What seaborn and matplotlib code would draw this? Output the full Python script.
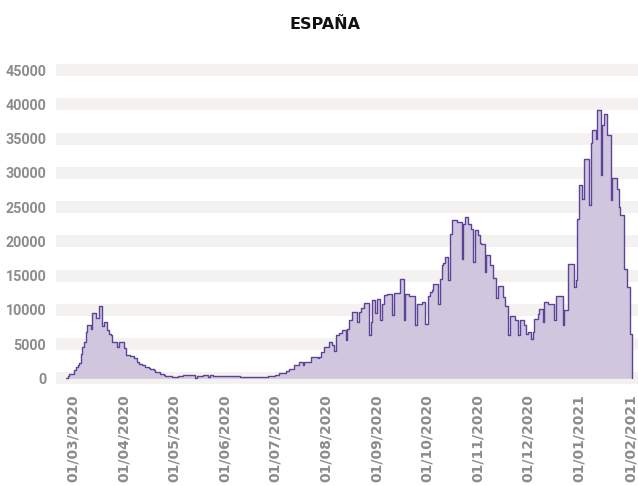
import numpy as np
import pandas as pd
import matplotlib
matplotlib.use("Agg")
import matplotlib.pyplot as plt
import matplotlib.dates as mdates
import seaborn as sns

# ---- data (daily new cases) ----
start_date = "2020-02-27"
feb_2020 = [0, 400, 600, 650]
mar_2020 = [700, 1200, 1700, 2000, 2300, 3600, 4500, 5300, 6800, 7800, 7800, 7200,
            9500, 9500, 8800, 8800, 10500, 10500, 7600, 8200, 8200, 7000, 6400, 6300,
            5300, 5300, 5300, 4500, 5300, 5300, 5300]
apr_2020 = [4400, 3400, 3400, 3350, 3300, 3200, 2900, 2900, 2400, 2100, 2050, 2000,
            2000, 1600, 1600, 1550, 1300, 1300, 1250, 920, 900, 880, 600, 580, 550,
            350, 350, 330, 300, 200]
may_2020 = [200, 220, 250, 340, 340, 340, 480, 480, 470, 480, 470, 480, 480, 100,
            380, 380, 380, 380, 450, 450, 450, 150, 450, 450, 300, 300, 300, 300, 300,
            300, 300]
jun_2020 = [300, 300, 330, 330, 330, 330, 330, 330, 330, 150, 150, 160, 150, 150,
            150, 140, 150, 150, 150, 150, 160, 150, 250, 250, 250, 250, 400, 400, 300,
            400]
jul_2020 = [450, 450, 450, 800, 800, 750, 800, 1100, 1100, 1400, 1400, 1350, 1900,
            1900, 1900, 2400, 2400, 2000, 2400, 2400, 2400, 2400, 3100, 3100, 3100,
            3100, 3000, 3100, 3850, 3850, 4600]
aug_2020 = [4600, 4600, 5300, 5300, 4800, 4000, 6300, 6300, 6600, 6600, 7100, 7100,
            5550, 7250, 8470, 8470, 9680, 9680, 9680, 8200, 9680, 10300, 10300, 11000,
            11000, 11000, 6300, 8200, 11400, 11400, 9500]
sep_2020 = [11600, 11600, 8570, 10900, 12100, 12100, 12260, 12260, 12260, 9200,
            12450, 12450, 12450, 12450, 14550, 14550, 8470, 12360, 12360, 11970, 11970,
            11970, 11970, 7740, 10900, 10900, 10900, 11140, 11140, 7980]
oct_2020 = [7980, 12000, 12600, 12850, 13700, 13700, 13700, 10900, 14550, 16500,
            16800, 17700, 17700, 14300, 21100, 23150, 23150, 23150, 22770, 22770,
            22770, 17400, 22500, 23600, 23600, 22480, 22480, 21850, 16980, 21700, 21700]
nov_2020 = [20980, 19750, 19560, 19560, 15520, 17960, 17960, 16500, 16500, 14700,
            14700, 11780, 13430, 13430, 13430, 11870, 10510, 10510, 6280, 9050, 9050,
            9050, 8570, 8570, 6280, 8470, 8470, 8470, 7740, 6420]
dec_2020 = [6760, 6760, 5800, 6760, 8710, 8710, 9440, 10170, 10170, 8220, 11140,
            11140, 10800, 10800, 10800, 10800, 8470, 11970, 11970, 11970, 11970, 7740,
            9930, 9930, 16640, 16640, 16640, 16640, 13330, 14300, 23300]
jan_2021 = [28170, 28170, 26230, 32070, 32070, 32070, 25250, 34350, 36200, 36200,
            35000, 39220, 39220, 29630, 37000, 38540, 38540, 35470, 35470, 25980,
            29300, 29300, 29300, 27690, 25010, 23800, 23800, 16010, 16010, 13330, 13330]
feb_2021 = [6520, 0]

y_ticks = [0, 5000, 10000, 15000, 20000, 25000, 30000, 35000, 40000, 45000]
x_tick_dates = ["2020-03-01", "2020-04-01", "2020-05-01", "2020-06-01", "2020-07-01",
                "2020-08-01", "2020-09-01", "2020-10-01", "2020-11-01", "2020-12-01",
                "2021-01-01", "2021-02-01"]
title = "ESPAÑA"

values = (feb_2020[1:] + mar_2020 + apr_2020 + may_2020 + jun_2020 + jul_2020 +
          aug_2020 + sep_2020 + oct_2020 + nov_2020 + dec_2020 + jan_2021 + feb_2021)
values = [feb_2020[0]] + values
dates = pd.date_range(start="2020-02-26", periods=len(values), freq="D")
df = pd.DataFrame({"fecha": dates, "casos": values})

# ---- styling ----
sns.set_theme(style="white")
plt.rcParams["font.family"] = ["Roboto", "DejaVu Sans"]

LINE = "#5c4399"
FILL = "#d0c7de"
BAND = "#f3f2f0"
TXT = "#8c8c8c"

fig = plt.figure(figsize=(6.38, 4.86), dpi=100)
ax = fig.add_axes([56 / 638, (486 - 386) / 486, (638 - 56) / 638, (386 - 64) / 486])

for t in y_ticks:
    ax.axhspan(t - 880, t + 880, color=BAND, lw=0, zorder=0)

ax.fill_between(df["fecha"], df["casos"], 0, step="post", color=FILL, lw=0, zorder=1)
sns.lineplot(data=df, x="fecha", y="casos", drawstyle="steps-post", color=LINE,
             lw=1.0, ax=ax, zorder=2, estimator=None)

ax.set_ylim(-1124, 45880)
ax.set_xlim(pd.Timestamp("2020-02-20 00:00"), pd.Timestamp("2021-02-05 14:00"))
ax.set_yticks(y_ticks)
ax.set_yticklabels([str(t) for t in y_ticks], fontsize=10.3, fontweight="bold",
                   color=TXT)
ax.set_xticks([pd.Timestamp(d) for d in x_tick_dates])
ax.xaxis.set_major_formatter(mdates.DateFormatter("%d/%m/%Y"))
for lab in ax.get_xticklabels():
    lab.set_rotation(90)
    lab.set_fontsize(10)
    lab.set_fontweight("bold")
    lab.set_color(TXT)
    lab.set_family(["DejaVu Sans"])
ax.tick_params(axis="both", length=0)
ax.tick_params(axis="y", pad=7)
ax.tick_params(axis="x", pad=6)
ax.set_xlabel("")
ax.set_ylabel("")
ax.grid(False)
for s in ax.spines.values():
    s.set_visible(False)

fig.text(0.51, 0.949, title, ha="center", va="center", fontsize=11.5,
         fontweight="bold", color="#111111", family=["DejaVu Sans"])

fig.savefig("out.png", dpi=100)
